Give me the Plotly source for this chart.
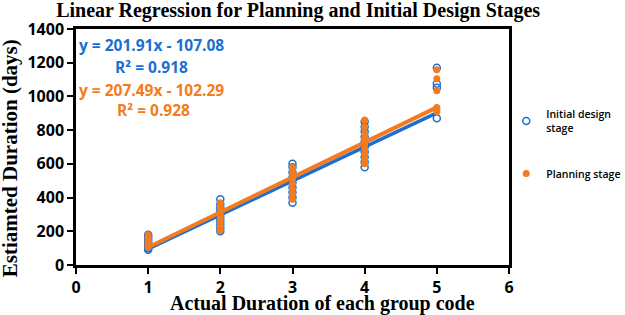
import plotly.graph_objects as go

# group codes and estimated durations (days)
initial_x = [1] * 10 + [2] * 10 + [3] * 9 + [4] * 10 + [5] * 4
initial_y = [90, 100, 110, 120, 130, 140, 150, 160, 170, 180,
             200, 220, 240, 260, 280, 300, 320, 340, 360, 390,
             370, 400, 430, 460, 490, 520, 550, 580, 600,
             580, 610, 640, 670, 700, 730, 760, 790, 820, 850,
             870, 1051, 1075, 1170]

planning_x = [1] * 8 + [2] * 8 + [3] * 8 + [4] * 9 + [5] * 6
planning_y = [105, 115, 125, 135, 145, 155, 165, 180,
              205, 230, 255, 280, 300, 320, 345, 370,
              390, 420, 450, 480, 510, 535, 560, 580,
              600, 630, 660, 690, 720, 750, 780, 820, 860,
              910, 925, 935, 1034, 1105, 1158]

# trendline coefficients shown on the chart
trend_x = [1, 5]
initial_slope, initial_icpt = 201.91, -107.08
planning_slope, planning_icpt = 207.49, -102.29

blue = '#1a6fd0'
orange = '#f47b20'

fig = go.Figure()
fig.add_trace(go.Scatter(
    x=initial_x, y=initial_y, mode='markers', name='Initial design<br>stage',
    legendgroup='a',
    marker=dict(symbol='circle-open', size=7, color=blue, line=dict(width=1.5))
))
fig.add_trace(go.Scatter(
    x=trend_x, y=[initial_slope * v + initial_icpt for v in trend_x],
    mode='lines', line=dict(color=blue, width=3.5), showlegend=False
))
fig.add_trace(go.Scatter(
    x=planning_x, y=planning_y, mode='markers', name='Planning stage',
    legendgroup='b',
    marker=dict(symbol='circle', size=7, color=orange)
))
fig.add_trace(go.Scatter(
    x=trend_x, y=[planning_slope * v + planning_icpt for v in trend_x],
    mode='lines', line=dict(color=orange, width=4), showlegend=False
))

def eq_font(c):
    return dict(family='Open Sans', size=15.5, color=c)

fig.add_annotation(x=0.003, y=1305, xref='paper', yref='y', xanchor='left',
                   text='<b>y = 201.91x - 107.08</b>', showarrow=False, font=eq_font(blue))
fig.add_annotation(x=0.085, y=1175, xref='paper', yref='y', xanchor='left',
                   text='<b>R² = 0.918</b>', showarrow=False, font=eq_font(blue))
fig.add_annotation(x=0.003, y=1038, xref='paper', yref='y', xanchor='left',
                   text='<b>y = 207.49x - 102.29</b>', showarrow=False, font=eq_font(orange))
fig.add_annotation(x=0.09, y=919, xref='paper', yref='y', xanchor='left',
                   text='<b>R² = 0.928</b>', showarrow=False, font=eq_font(orange))

# axis titles as annotations so they can sit as in the reference
title_font = dict(family='Liberation Serif', size=20, color='black')
fig.add_annotation(x=0.57, y=-0.165, xref='paper', yref='paper',
                   xanchor='center', yanchor='middle', showarrow=False,
                   text='<b>Actual Duration of each group code</b>', font=title_font)
fig.add_annotation(x=-0.152, y=0.453, xref='paper', yref='paper', textangle=-90,
                   xanchor='center', yanchor='middle', showarrow=False,
                   text='<b>Estiamted Duration (days)</b>',
                   font=dict(family='Liberation Serif', size=21, color='black'))

axis_common = dict(showline=True, linecolor='black', linewidth=2.5, mirror=True,
                   ticks='outside', ticklen=6, tickwidth=2, tickcolor='black',
                   showgrid=False, zeroline=False, automargin=False,
                   tickfont=dict(family='Open Sans', size=16, color='black', weight='bold'))

fig.update_xaxes(range=[0, 6], dtick=1, **axis_common)
fig.update_yaxes(range=[0, 1400], dtick=200, **axis_common)

fig.update_layout(
    width=625, height=315,
    margin=dict(l=76, r=116, t=29, b=50, autoexpand=False),
    paper_bgcolor='white', plot_bgcolor='white',
    title=dict(text='<b>Linear Regression for Planning and Initial Design Stages</b>',
               x=0.477, xanchor='center', y=0.99, yanchor='top',
               font=dict(family='Liberation Serif', size=20, color='black')),
    legend=dict(xref='container', yref='container', x=0.81, y=0.68,
                xanchor='left', yanchor='top', tracegroupgap=28,
                font=dict(family='Open Sans', size=10.5, color='black', weight=600),
                bgcolor='rgba(0,0,0,0)'),
)

# drop the page's default body margin so the figure fills the window
fig.write_html("out.html", config={'displayModeBar': False},
               post_script="document.body.style.margin='0';")
